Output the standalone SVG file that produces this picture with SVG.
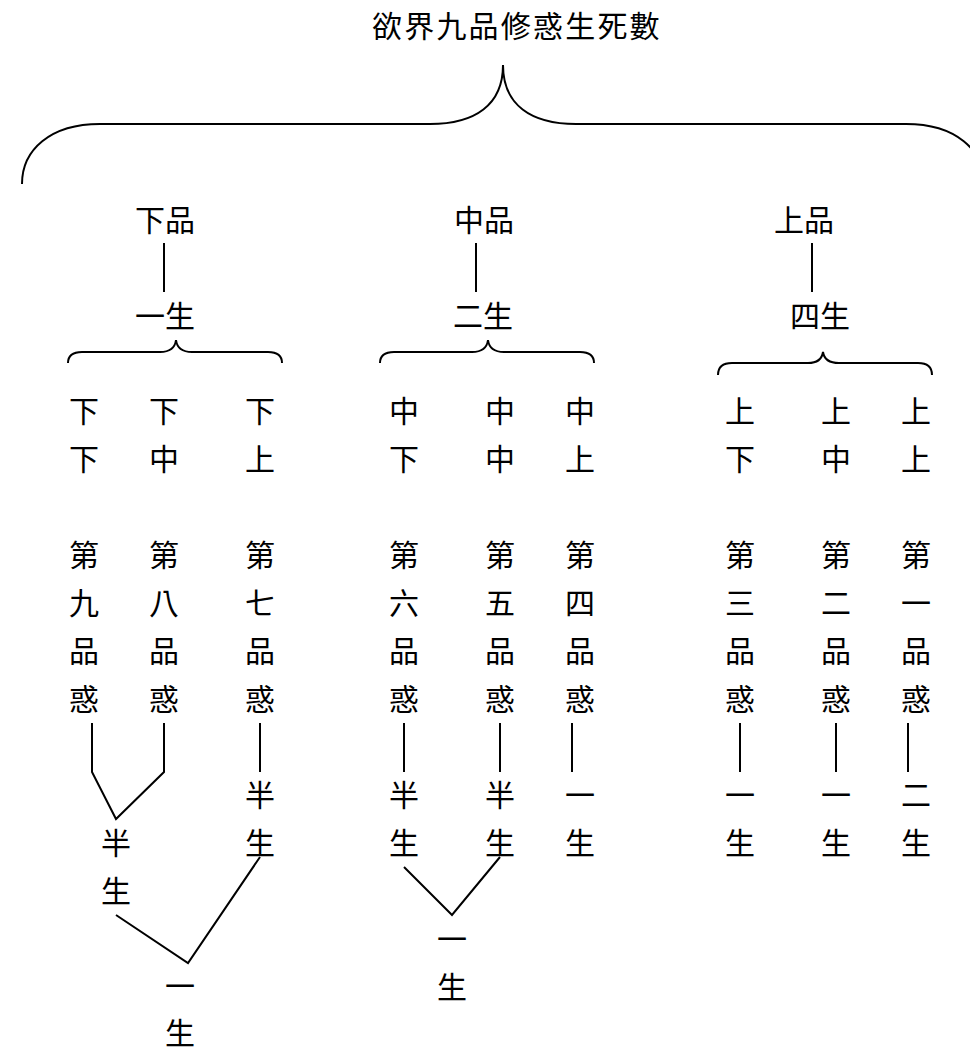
<svg xmlns="http://www.w3.org/2000/svg" width="970" height="1051" viewBox="0 0 970 1051">
<style>
text{font-family:"Noto Sans CJK TC","Noto Sans CJK SC",sans-serif;font-size:30px;fill:#000;text-anchor:middle}
.title{text-anchor:start;letter-spacing:2.2px}
.ln{fill:none;stroke:#000;stroke-width:2}
</style>
<rect width="970" height="1051" fill="#fff"/>
<g id="connectors">
<path class="ln" d="M22,184 C22,150 50,124 100,124 L430,124 C475,124 503,105 503,65 C503,105 531,124 576,124 L906,124 C956,124 984,150 984,184"/>
<path class="ln" d="M68,363 C68,356 72,352 82,352 L160,352 C170,352 175,348 176,340 C177,348 182,352 192,352 L268,352 C278,352 282,356 282,363"/>
<path class="ln" d="M380,363 C380,356 384,352 394,352 L472,352 C482,352 487,348 488,340 C489,348 494,352 504,352 L580,352 C590,352 594,356 594,363"/>
<path class="ln" d="M718,375 C718,368 722,363 732,363 L808,363 C818,363 822,359 823,352 C824,359 829,363 839,363 L918,363 C928,363 932,368 932,375"/>
<line class="ln" x1="164" y1="243" x2="164" y2="292"/>
<line class="ln" x1="476" y1="243" x2="476" y2="292"/>
<line class="ln" x1="812" y1="243" x2="812" y2="292"/>
<polyline class="ln" points="92,723 92,772 116,819 164,772 164,723"/>
<line class="ln" x1="260" y1="723" x2="260" y2="772"/>
<polyline class="ln" points="116,915 188,963 260,857"/>
<line class="ln" x1="404" y1="723" x2="404" y2="772"/>
<line class="ln" x1="500" y1="723" x2="500" y2="772"/>
<line class="ln" x1="572" y1="723" x2="572" y2="772"/>
<polyline class="ln" points="404,867 452,915 500,857"/>
<line class="ln" x1="740" y1="723" x2="740" y2="772"/>
<line class="ln" x1="836" y1="723" x2="836" y2="772"/>
<line class="ln" x1="908" y1="723" x2="908" y2="772"/>
</g>
<g id="title"><text class="title" x="372" y="37">欲界九品修惑生死數</text></g>
<g id="xiapin"><text x="165" y="231">下品</text></g>
<g id="xiapin-sheng"><text x="165" y="327">一生</text></g>
<g id="zhongpin"><text x="484" y="231">中品</text></g>
<g id="zhongpin-sheng"><text x="483" y="327">二生</text></g>
<g id="shangpin"><text x="804" y="231">上品</text></g>
<g id="shangpin-sheng"><text x="820" y="327">四生</text></g>
<g id="xx"><text x="84" y="422">下</text><text x="84" y="470">下</text><text x="84" y="566">第</text><text x="84" y="614">九</text><text x="84" y="662">品</text><text x="84" y="710">惑</text></g>
<g id="xz"><text x="164" y="422">下</text><text x="164" y="470">中</text><text x="164" y="566">第</text><text x="164" y="614">八</text><text x="164" y="662">品</text><text x="164" y="710">惑</text></g>
<g id="xs"><text x="260" y="422">下</text><text x="260" y="470">上</text><text x="260" y="566">第</text><text x="260" y="614">七</text><text x="260" y="662">品</text><text x="260" y="710">惑</text><text x="260" y="806">半</text><text x="260" y="854">生</text></g>
<g id="x-half"><text x="116" y="854">半</text><text x="116" y="902">生</text></g>
<g id="x-total"><text x="180" y="997">一</text><text x="180" y="1044">生</text></g>
<g id="zx"><text x="404" y="422">中</text><text x="404" y="470">下</text><text x="404" y="566">第</text><text x="404" y="614">六</text><text x="404" y="662">品</text><text x="404" y="710">惑</text><text x="404" y="806">半</text><text x="404" y="854">生</text></g>
<g id="zz"><text x="500" y="422">中</text><text x="500" y="470">中</text><text x="500" y="566">第</text><text x="500" y="614">五</text><text x="500" y="662">品</text><text x="500" y="710">惑</text><text x="500" y="806">半</text><text x="500" y="854">生</text></g>
<g id="zs"><text x="580" y="422">中</text><text x="580" y="470">上</text><text x="580" y="566">第</text><text x="580" y="614">四</text><text x="580" y="662">品</text><text x="580" y="710">惑</text><text x="580" y="806">一</text><text x="580" y="854">生</text></g>
<g id="z-total"><text x="452" y="950">一</text><text x="452" y="998">生</text></g>
<g id="sx"><text x="740" y="422">上</text><text x="740" y="470">下</text><text x="740" y="566">第</text><text x="740" y="614">三</text><text x="740" y="662">品</text><text x="740" y="710">惑</text><text x="740" y="806">一</text><text x="740" y="854">生</text></g>
<g id="sz"><text x="836" y="422">上</text><text x="836" y="470">中</text><text x="836" y="566">第</text><text x="836" y="614">二</text><text x="836" y="662">品</text><text x="836" y="710">惑</text><text x="836" y="806">一</text><text x="836" y="854">生</text></g>
<g id="ss"><text x="916" y="422">上</text><text x="916" y="470">上</text><text x="916" y="566">第</text><text x="916" y="614">一</text><text x="916" y="662">品</text><text x="916" y="710">惑</text><text x="916" y="806">二</text><text x="916" y="854">生</text></g>
</svg>
